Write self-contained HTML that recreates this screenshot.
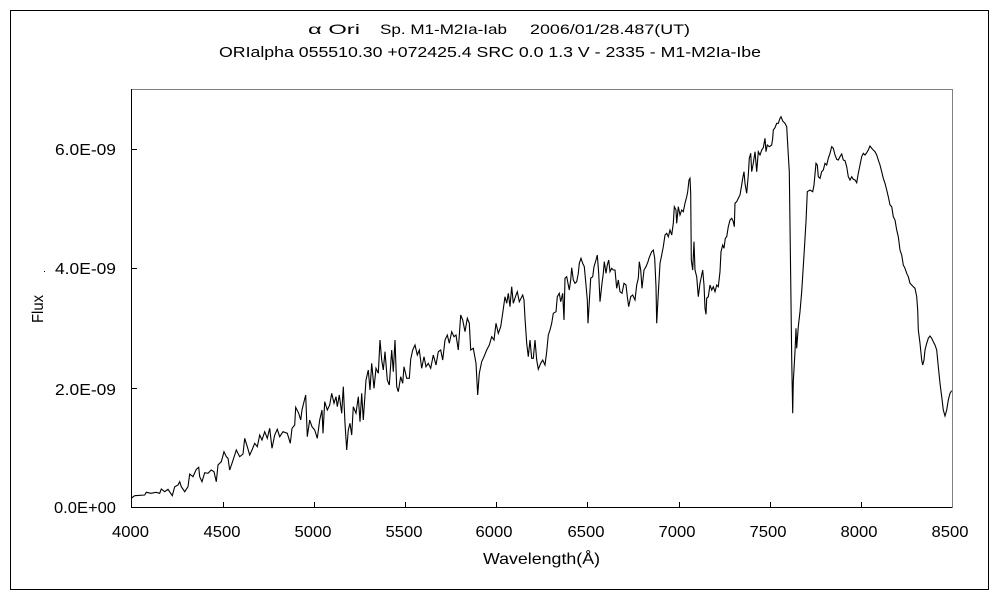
<!DOCTYPE html>
<html><head><meta charset="utf-8"><style>
html,body{margin:0;padding:0;background:#fff;}
svg{display:block;}
text{font-family:"Liberation Sans","IPAGothic",sans-serif;fill:#000;}
</style></head><body>
<svg width="1000" height="600" viewBox="0 0 1000 600" xmlns="http://www.w3.org/2000/svg">
<rect x="0" y="0" width="1000" height="600" fill="#fff"/>
<rect x="10.5" y="10.5" width="978" height="579" fill="none" stroke="#000" stroke-width="1"/>
<!-- titles -->
<text x="308" y="34" font-size="14" textLength="52" lengthAdjust="spacingAndGlyphs">α Ori</text>
<text x="380" y="34" font-size="14" textLength="127" lengthAdjust="spacingAndGlyphs">Sp. M1-M2Ia-Iab</text>
<text x="530" y="34" font-size="14" textLength="160" lengthAdjust="spacingAndGlyphs">2006/01/28.487(UT)</text>
<text x="219" y="57" font-size="15" textLength="542" lengthAdjust="spacingAndGlyphs" xml:space="preserve">ORIalpha 055510.30 +072425.4 SRC 0.0 1.3 V - 2335 - M1-M2Ia-Ibe</text>
<!-- plot frame -->
<line x1="131" y1="89.5" x2="952.5" y2="89.5" stroke="#808080" stroke-width="1"/>
<line x1="952.5" y1="89" x2="952.5" y2="507" stroke="#808080" stroke-width="1"/>
<line x1="131.5" y1="89" x2="131.5" y2="508" stroke="#000" stroke-width="1"/>
<line x1="131" y1="507.5" x2="952.5" y2="507.5" stroke="#000" stroke-width="1"/>
<!-- y ticks -->
<g stroke="#000" stroke-width="1">
<line x1="131" y1="388.5" x2="137" y2="388.5"/>
<line x1="131" y1="268.5" x2="137" y2="268.5"/>
<line x1="131" y1="149.5" x2="137" y2="149.5"/>
<!-- x ticks -->
<line x1="223.5" y1="507" x2="223.5" y2="502"/>
<line x1="314.5" y1="507" x2="314.5" y2="502"/>
<line x1="405.5" y1="507" x2="405.5" y2="502"/>
<line x1="496.5" y1="507" x2="496.5" y2="502"/>
<line x1="587.5" y1="507" x2="587.5" y2="502"/>
<line x1="679.5" y1="507" x2="679.5" y2="502"/>
<line x1="770.5" y1="507" x2="770.5" y2="502"/>
<line x1="861.5" y1="507" x2="861.5" y2="502"/>
</g>
<!-- y labels -->
<g font-size="16" text-anchor="end">
<text x="116" y="513" textLength="62" lengthAdjust="spacingAndGlyphs">0.0E+00</text>
<text x="116" y="395" textLength="61" lengthAdjust="spacingAndGlyphs">2.0E-09</text>
<text x="116" y="274" textLength="61" lengthAdjust="spacingAndGlyphs">4.0E-09</text>
<text x="116" y="155" textLength="61" lengthAdjust="spacingAndGlyphs">6.0E-09</text>
</g>
<!-- x labels -->
<g font-size="16" text-anchor="middle">
<text x="130.5" y="537" textLength="37" lengthAdjust="spacingAndGlyphs">4000</text>
<text x="222" y="537" textLength="37" lengthAdjust="spacingAndGlyphs">4500</text>
<text x="313" y="537" textLength="37" lengthAdjust="spacingAndGlyphs">5000</text>
<text x="404" y="537" textLength="37" lengthAdjust="spacingAndGlyphs">5500</text>
<text x="494" y="537" textLength="37" lengthAdjust="spacingAndGlyphs">6000</text>
<text x="586" y="537" textLength="37" lengthAdjust="spacingAndGlyphs">6500</text>
<text x="677" y="537" textLength="37" lengthAdjust="spacingAndGlyphs">7000</text>
<text x="768" y="537" textLength="37" lengthAdjust="spacingAndGlyphs">7500</text>
<text x="859" y="537" textLength="37" lengthAdjust="spacingAndGlyphs">8000</text>
<text x="950" y="537" textLength="37" lengthAdjust="spacingAndGlyphs">8500</text>
</g>
<text x="483" y="564" font-size="16" textLength="117" lengthAdjust="spacingAndGlyphs">Wavelength(Å)</text>
<text transform="translate(43,309) rotate(-90)" font-size="16" text-anchor="middle" textLength="28" lengthAdjust="spacingAndGlyphs">Flux</text>
<rect x="44" y="271" width="1" height="1" fill="#000"/>
<!-- spectrum -->
<polyline fill="none" stroke="#000" stroke-width="1.1" stroke-linejoin="miter" points="131.5,498 134.7,495.7 144.7,495 146.3,492.3 151,493.3 156,492.3 159.7,493.3 161.3,489 164.7,491.7 168,489.3 170.7,493.3 172.3,495.7 174.7,486.7 178,485 179.7,481.7 181.3,486.7 184.7,491.7 188,486.7 189.7,474 193,476.7 196.3,469.3 198.7,467.3 199.7,476.7 202,481.7 204.7,472.7 208,473.3 211.3,470 214,471.7 216.3,481.7 218,465 221.3,461.7 224,451.7 226.3,456.7 228,458.3 229.7,470 232,463.3 234.7,455 236.3,450 239.7,456.7 243,454 244.7,438.3 247.3,446.7 249.7,455 252,450 254.7,443.3 257.3,446.7 259.7,435 262,440 264.7,431.7 267.3,438.3 269.7,428.3 272,448.3 274.7,435 277.3,429.3 279.7,436.7 283,431.7 287.3,433.3 290.3,443.3 292,428.3 294.7,425 295.7,407.3 298.7,413.3 300.7,420 302,410 304,401.7 305.7,395 307.3,436.7 309.7,420 312,426.7 314.7,430 317.3,438.3 319.7,420 322,410 323,433.3 324.7,401.7 327.3,410 329.7,405 331.7,393.3 334,403.3 336,396.7 337.3,406.7 339.3,395 341.7,413.3 343.3,386.7 345,423.3 346.7,450 348.3,430 350,423.3 351.7,435 353.3,406.7 356,413.3 358.3,396.7 360,421.7 361.7,393.3 363.3,420 366,380 368.3,370 370,390 371.7,363.3 374,388.3 376,368.3 378.3,373.3 380,340 381.7,360 383.3,370 385,351.7 387.3,380 389.3,385 391.7,350 393.3,371.7 395,340 396.7,386.7 398.3,391.7 400.7,376.7 402.7,383.3 404,366.7 406.7,378.3 409.3,378.3 410.7,359.3 412.7,350 415,345 417.3,355 419.3,350 421.7,368.3 424,356.7 426,366.7 428.3,363.3 430.7,368.3 433.3,355 436,365 438.3,351.7 440.7,350 442.7,360 445,340 447.3,335 449.3,343.3 451.7,331.7 454,336.7 456,335 458.3,350 460.7,315 462.7,320 465,331.7 467.3,318.3 469.3,323.3 470.7,350 473.3,348.3 476,363.3 477.7,395 479.3,373.3 481.7,361.7 484,356.7 486.7,350 489.3,345 491.7,336.7 494,340 496,323.3 498.3,333.3 500.7,326.7 502.7,313.3 505,296.7 506.7,303.3 508.3,293.3 510,306.7 511.7,286.7 513.3,303.3 516,295 517.3,291.7 519.3,301.7 522.7,295 524,300 525,318.3 526.7,343.3 528.3,356.7 530,340 531.7,358.3 533.3,358.3 535,340 536.7,360 538.3,369.3 540.7,363.3 542.7,360 545,365 546.7,351.7 548.3,335 550,330 551.7,323.3 553.3,313.3 556,311.7 557.3,296.7 559.3,293.3 560.7,301.7 562.7,293.3 564,320 565,278.3 566.7,276.7 568.3,285 569.3,290 570.7,280 571.7,267.7 573.3,280 575,283.3 576.7,281.7 578.3,273.3 579.3,263.3 581,258.3 582.7,263.3 584.3,266.7 586,285 587.3,300 588,323.3 589.3,301.7 590.7,278.3 592.7,276.7 594,266.7 596,260 597.3,255 598.7,273.3 600,301.7 602,283.3 603.3,273.3 604.3,261.7 606,273.3 607.3,265 608.7,260 610,271.7 611.7,268.3 613.3,270 615,270 616.7,288.3 618.3,280 620,291.7 622,293.3 624,283.3 626,285 627.3,296.7 628.7,306.7 630.7,296.7 632.7,295 635,300 636.7,285 638.3,278.3 639.3,261.7 640.7,270 642,288.3 644,270 646,266.7 648,261.7 649.3,257.3 651.7,251.7 653.3,250 654.7,258.3 656,286.7 656.7,323.3 658.3,293.3 660,263.3 661.7,255 663.3,246.7 665,235 666.7,233.3 668.3,236.7 670,230 671.7,235 673.3,223.3 674.3,206.7 676,210 676.7,223.3 678.3,206.7 680,215 681.7,210 683.3,211.7 685,203.3 686.7,196.7 687.7,191.7 689,180 690,178.3 690.7,193.3 691.3,260 692.7,270 694,241.7 695,270 696.7,276.7 698.3,296.7 700,283.3 702.7,270 704,285 705,308.3 706,314.3 706.7,298.3 708.3,296.7 710,285 711.7,290 713.3,286.7 715,291.7 716.7,285 718.3,286.7 720,271.7 721,251.7 722.7,245 724,248.3 725.3,238.3 726.7,236.7 728.3,226.7 730,220 731.7,218.3 733.3,221.7 734.3,226.7 735,203.3 736.7,201.7 738.3,198.3 740,195 741.7,185 742.7,178.3 744,171.7 745,183.3 746.7,193.3 748.3,175 749.3,158.3 750.7,153.3 751.7,171.7 753.3,163.3 755,151.7 756.7,171.7 758.3,151.7 760,155 761.7,150 763.3,147.7 765,138.3 766,151.7 767.3,145 769.3,146.7 771.7,145 772.7,138.3 773.3,130 775,127.7 776.7,123.3 778.3,123.3 780,118.3 781,116.7 782.7,121 785,123.3 786.7,126.7 788.3,155 789.3,171.7 790.7,278.3 791.7,358.3 792.7,413.3 793.3,381.7 795,351.7 796,328.3 796.7,348.3 798.3,326.7 800,311.7 801.7,291.7 804,255 806,221.7 807.3,191.7 810,190 812.7,191.7 814,185 816,163.3 817.3,165 818.3,176.7 820,178.3 821.7,171.7 823.3,170 825,163.3 826.7,165 828.3,158.3 830,153.3 831.7,146.7 833.3,148.3 835,155 836.7,159.3 838.3,160 840,156.7 841.7,154 843.3,160 845,160.7 846.7,166.7 848.3,176.7 850,180 851.7,176.7 853.3,179.3 855,180 856.7,182.7 858.3,173.3 860,165 861.7,156.7 863.3,153.3 865,155 866.7,152.7 868.3,150 870,146 871.7,148.3 873.3,150 875,151.7 876.7,155 878.3,160 880,165 881.7,171.7 883.3,178.3 885,183.3 886.7,190 888.3,196.7 890,205 891.7,206.7 893.3,216.7 895,220 896.7,230 898.3,236.7 900,250 901.7,255 903.3,265 905,268.3 906.7,273.3 908.3,276.7 910,283.3 911.7,285 913.3,286.7 915,288.3 916.7,296.7 917.7,310 918.3,330 920,343.3 921.7,360 922.7,365 924,360 925,350 926.7,343.3 928.3,338.3 930,336 931.7,338.3 933.3,341.7 935,345 936.7,350 938.3,366.7 940,383.3 941.7,396.7 943.3,410 945,416 946.7,410 948.3,400 950,393.3 951.7,390.7"/>
</svg>
</body></html>
